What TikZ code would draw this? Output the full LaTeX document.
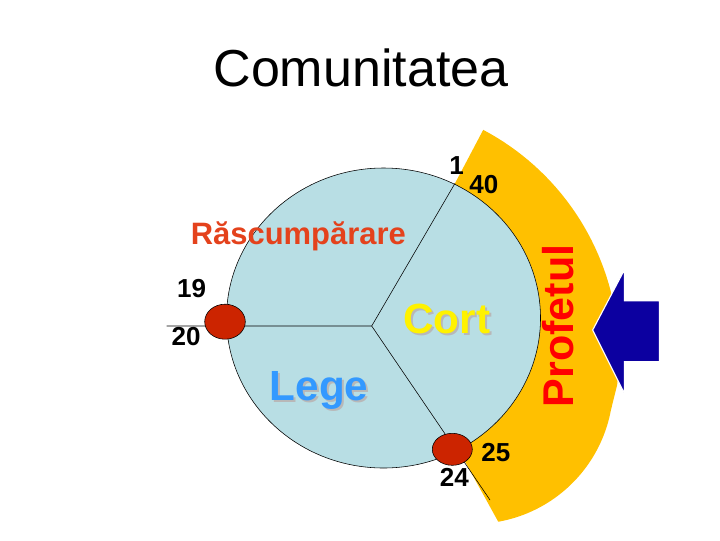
\documentclass[tikz,border=0pt]{standalone}
\usepackage{fontspec}
\setmainfont{Liberation Sans}
\usetikzlibrary{shapes.geometric}
\definecolor{discblue}{RGB}{184,222,228}
\definecolor{bandgold}{RGB}{255,192,0}
\definecolor{dotred}{RGB}{204,36,0}
\definecolor{arrowblue}{RGB}{12,0,160}
\definecolor{redeemred}{RGB}{228,66,28}
\definecolor{lawblue}{RGB}{51,153,255}
\tikzset{
  num/.style = {font=\fontsize{18.5}{20}\selectfont\bfseries, inner sep=0pt},
  dot/.style = {ellipse, draw=black, fill=dotred, inner sep=0pt, line width=0.4pt},
  word/.style = {font=\fontsize{30}{32}\selectfont\bfseries, inner sep=0pt, anchor=base},
  ghost/.style = {word, text=black!28}
}

\begin{document}
\begin{tikzpicture}[x=0.025cm, y=-0.025cm]
\useasboundingbox (0,0) rectangle (720,540);
\def\disc{(383.5,318) ellipse [x radius=157, y radius=150]}
\coordinate (hub) at (371.7,326);
\coordinate (west) at (166.7,326);
\coordinate (north) at (455,183.3);
\coordinate (south) at (490,500);
\fill[bandgold] (hub) -- (north)
  -- plot[domain=-62.1:6.7, samples=40] ({363.9+255*cos(\x)}, {355.2+255*sin(\x)})
  -- plot[domain=10.6:79.9, samples=40] ({473.8+139.5*cos(\x)}, {384.4+139.5*sin(\x)})
  -- (462,456) -- cycle;
\filldraw[fill=discblue, draw=black, line width=0.4pt] \disc;
\draw[line width=0.4pt] (west) -- (hub) -- (north);
\draw[line width=0.4pt] (hub) -- (south);
\node[dot, minimum width=1.015cm, minimum height=0.875cm] (dot20) at (225,321.7) {};
\node[dot, minimum width=1cm, minimum height=0.8cm] (dot24) at (452.3,449.3) {};
\node[font=\fontsize{37}{40}\selectfont, anchor=base, inner sep=0pt] (title) at (361,86.7) {Comunitatea};
\node[num] (n1) at (456.7,165.8) {1};
\node[num] (n40) at (483.8,184.2) {40};
\node[num] (n19) at (191.7,289) {19};
\node[num] (n20) at (186.2,336.7) {20};
\node[num] (n25) at (495.8,452.2) {25};
\node[num] (n24) at (454.3,477.5) {24};
\node[word, font=\fontsize{22}{24}\selectfont\bfseries, text=redeemred] (redeem) at (298.3,244) {Răscumpărare};
\node[ghost] (cortshade) at (448.7,335.3) {Cort};
\node[word, text=yellow] (cort) at (446.7,333.3) {Cort};
\node[ghost] (legeshade) at (321,402) {Lege};
\node[word, text=lawblue] (lege) at (319,400) {Lege};
\node[word, font=\fontsize{30.6}{32}\selectfont\bfseries, text=red, rotate=90] (prophet) at (573.3,326) {Profetul};
\filldraw[fill=arrowblue, draw=white, line width=0.8pt] (592.7,330) -- (624.3,270) -- (624.3,300.7) -- (659.3,300.7) -- (659.3,361.7) -- (624.3,361.7) -- (624.3,393.3) -- cycle;
\end{tikzpicture}
\end{document}
